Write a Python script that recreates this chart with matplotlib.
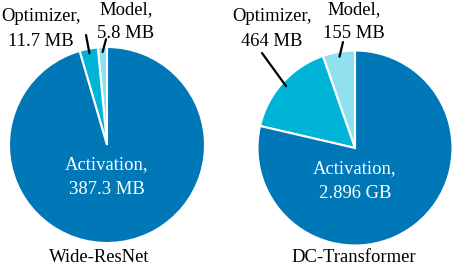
import numpy as np
import matplotlib.pyplot as plt

plt.rcParams['font.family'] = ['Liberation Serif', 'DejaVu Serif']

# wedge order: model, optimizer, activation (drawn counter-clockwise from 12 o'clock)
parts = ['Model', 'Optimizer', 'Activation']
colors = ['#90e0ef', '#00b4d8', '#0077b6']

# Wide-ResNet (MB); wedge shares (total ~= 387.3)
wrn_labels = ['5.8 MB', '11.7 MB', '387.3 MB']
wrn_sizes = [5.8, 11.7, 369.8]

# DC-Transformer (MB); wedge shares (total ~= 2896)
dct_labels = ['155 MB', '464 MB', '2.896 GB']
dct_sizes = [155, 464, 2277]

W, H = 454, 266
FS = 13.4
LS = 1.55
fig = plt.figure(figsize=(W / 100, H / 100), dpi=100)


def add_pie(cx, cy, r):
    # place a square axes so the pie lands on pixel centre (cx, cy) with radius r
    return fig.add_axes([(cx - r) / W, (H - cy - r) / H, 2 * r / W, 2 * r / H])


def draw(ax, sizes, labels, title, lab_pos, line_start, title_pos, act_y):
    wedges, _ = ax.pie(sizes, colors=colors, startangle=90, counterclock=True,
                       radius=1, wedgeprops=dict(edgecolor='white', linewidth=1.5))
    ax.set_xlim(-1, 1)
    ax.set_ylim(-1, 1)
    ax.set_aspect('equal')
    ax.axis('off')
    for i in range(2):
        w = wedges[i]
        ang = np.deg2rad((w.theta1 + w.theta2) / 2)
        pt = (0.95 * np.cos(ang), 0.95 * np.sin(ang))
        ax.annotate('', xy=pt, xytext=line_start[i],
                    arrowprops=dict(arrowstyle='-', color='black', lw=1.6,
                                    shrinkA=0, shrinkB=0))
        ax.text(lab_pos[i][0], lab_pos[i][1], f'{parts[i]},\n{labels[i]}',
                ha='center', va='center', fontsize=FS, linespacing=LS)
    ax.text(0, act_y, f'{parts[2]},\n{labels[2]}', ha='center', va='center',
            fontsize=FS, color='white', linespacing=LS)
    ax.text(title_pos[0], title_pos[1], title, ha='center', va='center', fontsize=FS)


ax1 = add_pie(107, 145, 98)
draw(ax1, wrn_sizes, wrn_labels, 'Wide-ResNet',
     [(0.194, 1.262), (-0.673, 1.184)],
     [(-0.01, 1.08), (-0.214, 1.122)],
     (-0.08, -1.153), -0.327)

ax2 = add_pie(355, 148, 97.5)
draw(ax2, dct_sizes, dct_labels, 'DC-Transformer',
     [(-0.01, 1.298), (-0.851, 1.221)],
     [(-0.123, 1.087), (-0.954, 0.974)],
     (-0.01, -1.128), -0.338)

fig.savefig('out.png', dpi=100)
